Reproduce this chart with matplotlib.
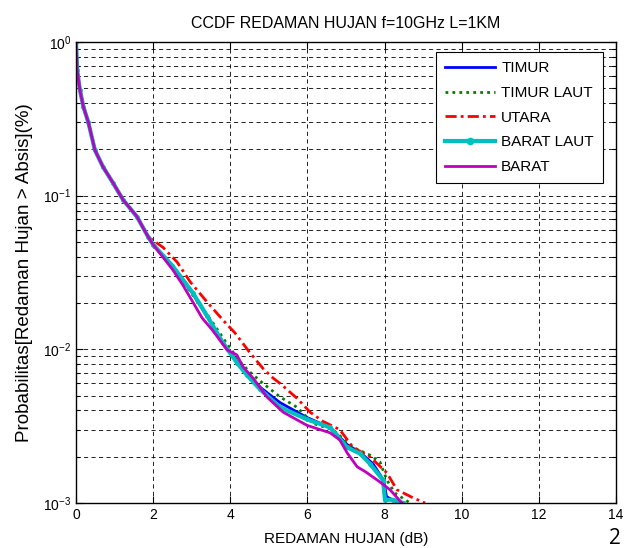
import matplotlib
matplotlib.use("Agg")
import matplotlib.pyplot as plt
from matplotlib.ticker import LogLocator, LogFormatterMathtext, NullFormatter, MultipleLocator

plt.rcParams['font.family'] = ['Liberation Sans', 'DejaVu Sans']
plt.rcParams['mathtext.default'] = 'regular'

title = "CCDF REDAMAN HUJAN f=10GHz L=1KM"
xlabel = "REDAMAN HUJAN (dB)"
ylabel = "Probabilitas[Redaman Hujan > Absis](%)"
labels = ["TIMUR", "TIMUR LAUT", "UTARA", "BARAT LAUT", "BARAT"]

head_x = [0.0, 0.03, 0.10, 0.19, 0.32, 0.49, 0.70, 0.96, 1.22, 1.58, 1.87]
head_p = [1.0, 0.66, 0.49, 0.38, 0.30, 0.198, 0.154, 0.121, 0.094, 0.073, 0.054]

timur_x = head_x + [2.0, 2.5, 3.03, 3.4, 3.81, 4.17, 4.43, 4.8, 5.29, 5.99, 6.59, 7.03, 7.4, 7.7, 7.98, 8.05, 8.2, 8.4]
timur_p = head_p + [0.048, 0.035, 0.023, 0.0163, 0.0111, 0.0084, 0.0070, 0.0056, 0.0045, 0.0036, 0.0031, 0.0024, 0.0021, 0.0018, 0.0014, 0.0011, 0.00105, 0.001]

timurlaut_x = head_x + [2.0, 2.5, 3.03, 3.5, 3.9, 4.25, 4.51, 4.85, 5.29, 5.73, 6.14, 6.66, 7.18, 7.62, 7.88, 8.06, 8.27, 8.66]
timurlaut_p = head_p + [0.048, 0.035, 0.0225, 0.0155, 0.011, 0.0083, 0.0071, 0.0060, 0.0049, 0.0042, 0.0033, 0.0030, 0.0023, 0.00205, 0.00185, 0.00141, 0.00116, 0.001]

utara_x = head_x + [2.26, 2.62, 2.96, 3.40, 3.81, 4.12, 4.51, 4.85, 5.11, 5.29, 5.73, 6.07, 6.40, 6.84, 7.18, 7.62, 8.06, 8.32, 8.74, 9.05]
utara_p = head_p + [0.046, 0.037, 0.0275, 0.0203, 0.0155, 0.0128, 0.0095, 0.0075, 0.0065, 0.0060, 0.0048, 0.0039, 0.0034, 0.0030, 0.0023, 0.0020, 0.00157, 0.00122, 0.00108, 0.001]

baratlaut_x = head_x + [2.0, 2.5, 3.03, 3.4, 3.81, 4.17, 4.43, 4.77, 5.29, 5.99, 6.59, 7.03, 7.36, 7.62, 7.96, 8.01, 8.22, 8.48]
baratlaut_p = head_p + [0.048, 0.035, 0.0233, 0.0165, 0.011, 0.0082, 0.0068, 0.0055, 0.0042, 0.0035, 0.0031, 0.0023, 0.0021, 0.0018, 0.00141, 0.00105, 0.00105, 0.001]

barat_x = head_x + [2.0, 2.51, 2.77, 3.03, 3.27, 3.53, 3.92, 4.17, 4.33, 4.59, 4.95, 5.37, 5.99, 6.59, 6.84, 7.03, 7.29, 7.5, 7.88, 8.14, 8.45]
barat_p = head_p + [0.048, 0.0329, 0.0262, 0.0203, 0.016, 0.0134, 0.0099, 0.0092, 0.0077, 0.0065, 0.0049, 0.0039, 0.0032, 0.00286, 0.00257, 0.00212, 0.00172, 0.0016, 0.00137, 0.00122, 0.001]

fig = plt.figure(figsize=(6.35, 5.48), dpi=100)
ax = fig.add_axes([76/635, 1 - 503/548, 540/635, 461/548])

ax.plot(timur_x, timur_p, color=(0, 0, 1), lw=2, label=labels[0])
ax.plot(timurlaut_x, timurlaut_p, color=(0, 0.5, 0), lw=2, ls=(0, (1, 1.5)), label=labels[1])
ax.plot(utara_x, utara_p, color=(1, 0, 0), lw=2, ls=(0, (4, 1.5, 1, 1.5)), label=labels[2])
ax.plot(baratlaut_x, baratlaut_p, color=(0, 0.75, 0.75), lw=3, marker='.', ms=5, label=labels[3])
ax.plot(barat_x, barat_p, color=(0.75, 0, 0.75), lw=2, label=labels[4])

ax.set_yscale('log')
ax.set_xlim(0, 14)
ax.set_ylim(1e-3, 1)
ax.xaxis.set_major_locator(MultipleLocator(2))
ax.yaxis.set_major_locator(LogLocator(base=10, numticks=10))
ax.yaxis.set_minor_locator(LogLocator(base=10, subs=range(2, 10), numticks=20))
ax.yaxis.set_major_formatter(LogFormatterMathtext())
ax.yaxis.set_minor_formatter(NullFormatter())

ax.grid(True, which='major', axis='both', color='black', ls=(0, (5, 4)), lw=0.6)
ax.grid(True, which='minor', axis='y', color='black', ls=(0, (5, 4)), lw=0.6)
ax.tick_params(which='both', direction='in', top=True, right=True, labelsize=10, width=0.8)
ax.tick_params(which='major', length=5)
ax.tick_params(which='minor', length=3)
for s in ax.spines.values():
    s.set_linewidth(1.0)

ax.set_title(title, fontsize=11.5, pad=10)
ax.set_xlabel(xlabel, fontsize=11, labelpad=7)
ax.set_ylabel(ylabel, fontsize=13.5)
ax.yaxis.set_label_coords(-0.08, 0.5)

leg = ax.legend(loc='upper right', bbox_to_anchor=(603/635, 1 - 52/548), bbox_transform=fig.transFigure,
                borderaxespad=0, fancybox=False, framealpha=1, edgecolor='black',
                fontsize=11, handlelength=3.27, handletextpad=0.4, labelspacing=0.7, borderpad=0.6)
leg.get_frame().set_linewidth(0.8)
leg.legend_handles[3].set_markersize(9)

fig.text(615/635, 1 - 539/548, "2", fontsize=15, ha='center', va='center', family=['Open Sans', 'DejaVu Sans'])

fig.savefig("out.png", dpi=100)
